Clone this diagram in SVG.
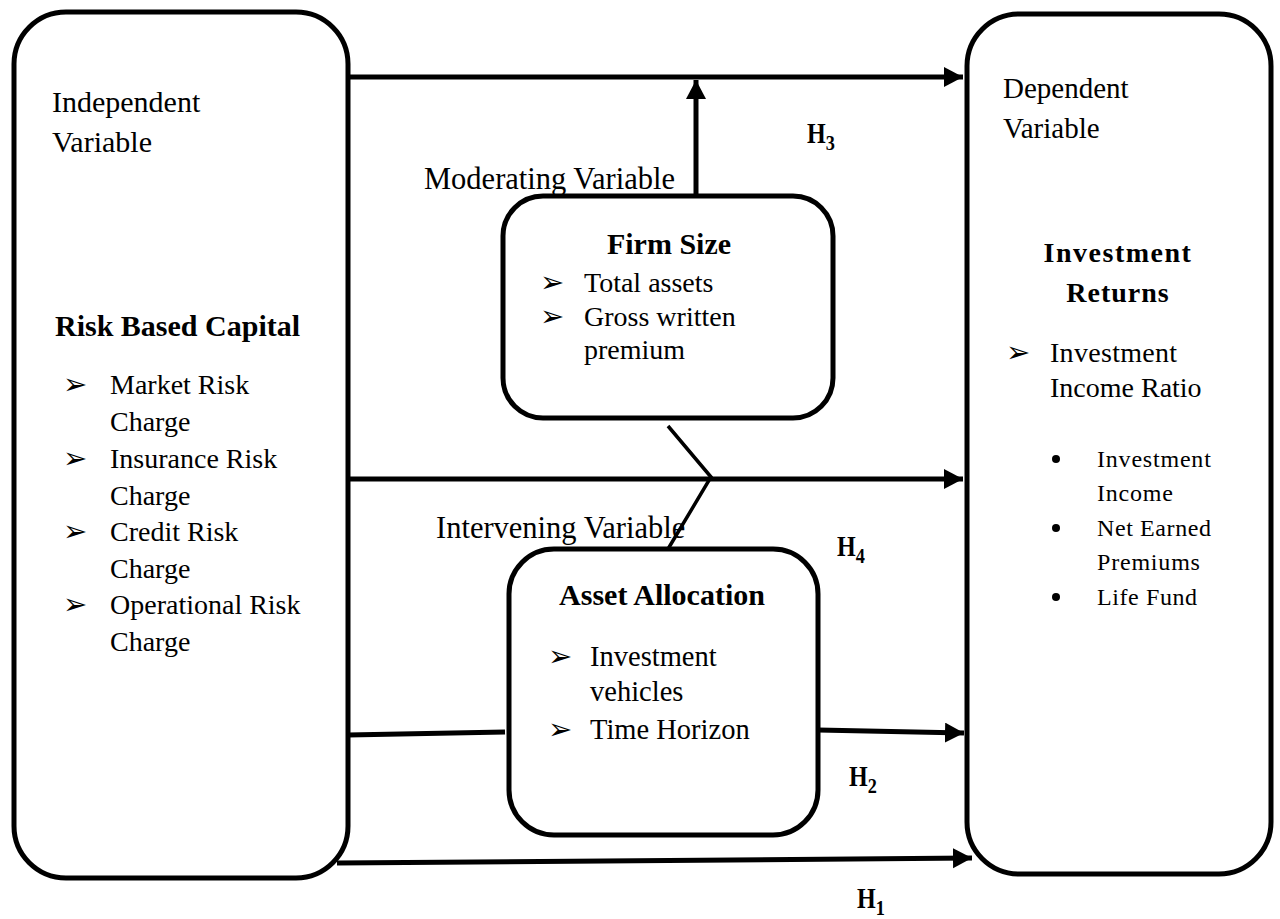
<svg xmlns="http://www.w3.org/2000/svg" width="1280" height="919" viewBox="0 0 1280 919">
<style>
.box{fill:#fff;stroke:#000;stroke-width:5}
.t{font-family:"Liberation Serif","Times New Roman",serif;fill:#000}
.b{font-weight:bold}
.ln{stroke:#000;stroke-width:5;fill:none}
.thin{stroke:#000;stroke-width:3.5;fill:none}
.ar{font-family:"DejaVu Sans",sans-serif;font-size:29px;fill:#000}
.dot{fill:#000}
.h{font-family:"Liberation Serif","Times New Roman",serif;font-weight:bold;font-size:29px;fill:#000}
</style>
<defs>
<marker id="ah" markerUnits="userSpaceOnUse" markerWidth="21" markerHeight="22" refX="19" refY="10" orient="auto">
<path d="M0,0 L19,10 L0,20 z" fill="#000"/>
</marker>
</defs>

<g id="independent">
<rect class="box" x="14" y="12" width="334" height="866" rx="52"/>
<text class="t" font-size="30" x="52" y="112">Independent</text>
<text class="t" font-size="30" x="52" y="152">Variable</text>
<text class="t b" font-size="30" x="55" y="336">Risk Based Capital</text>
<text class="ar" x="63" y="394">➢</text>
<text class="t" font-size="28" x="110" y="394">Market Risk</text>
<text class="t" font-size="28" x="110" y="431">Charge</text>
<text class="ar" x="63" y="468">➢</text>
<text class="t" font-size="28" x="110" y="468">Insurance Risk</text>
<text class="t" font-size="28" x="110" y="505">Charge</text>
<text class="ar" x="63" y="541">➢</text>
<text class="t" font-size="28" x="110" y="541">Credit Risk</text>
<text class="t" font-size="28" x="110" y="578">Charge</text>
<text class="ar" x="63" y="614">➢</text>
<text class="t" font-size="28" x="110" y="614">Operational Risk</text>
<text class="t" font-size="28" x="110" y="651">Charge</text>
</g>

<g id="dependent">
<rect class="box" x="967" y="14" width="304" height="860" rx="52"/>
<text class="t" font-size="29" x="1003" y="98">Dependent</text>
<text class="t" font-size="29" x="1003" y="138">Variable</text>
<text class="t b" font-size="28" x="1118" y="262" text-anchor="middle" letter-spacing="1.5">Investment</text>
<text class="t b" font-size="28" x="1118" y="302" text-anchor="middle" letter-spacing="1">Returns</text>
<text class="ar" x="1006" y="362">➢</text>
<text class="t" font-size="28" x="1050" y="362" letter-spacing="0.3">Investment</text>
<text class="t" font-size="28" x="1050" y="397">Income Ratio</text>
<circle class="dot" cx="1056" cy="459" r="4"/>
<text class="t" font-size="24" x="1097" y="467" letter-spacing="0.8">Investment</text>
<text class="t" font-size="24" x="1097" y="501" letter-spacing="0.8">Income</text>
<circle class="dot" cx="1056" cy="528" r="4"/>
<text class="t" font-size="24" x="1097" y="536" letter-spacing="0.6">Net Earned</text>
<text class="t" font-size="24" x="1097" y="570" letter-spacing="0.8">Premiums</text>
<circle class="dot" cx="1056" cy="597" r="4"/>
<text class="t" font-size="24" x="1097" y="605" letter-spacing="0.6">Life Fund</text>
</g>

<g id="connectors">
<line class="ln" x1="348" y1="77" x2="963" y2="77" marker-end="url(#ah)"/>
<line class="ln" x1="696" y1="196" x2="696" y2="80" marker-end="url(#ah)"/>
<line class="ln" x1="348" y1="479" x2="963" y2="479" marker-end="url(#ah)"/>
<polyline class="thin" points="668,426 711,477 668,549"/>
<line class="ln" x1="348" y1="735" x2="505" y2="732"/>
<line class="ln" x1="818" y1="730" x2="964" y2="733" marker-end="url(#ah)"/>
<line class="ln" x1="337" y1="863" x2="972" y2="858" marker-end="url(#ah)"/>
</g>

<g id="labels">
<text class="t" font-size="30.5" x="424" y="189">Moderating Variable</text>
<text class="t" font-size="30.5" x="436" y="538">Intervening Variable</text>
<text class="h" transform="translate(807,143) scale(0.83,1)">H<tspan font-size="22" dy="7">3</tspan></text>
<text class="h" transform="translate(837,556) scale(0.83,1)">H<tspan font-size="22" dy="7">4</tspan></text>
<text class="h" transform="translate(849,786) scale(0.83,1)">H<tspan font-size="22" dy="7">2</tspan></text>
<text class="h" transform="translate(857,908) scale(0.83,1)">H<tspan font-size="22" dy="7">1</tspan></text>
</g>

<g id="firm-size">
<rect class="box" x="503" y="196" width="330" height="222" rx="40"/>
<text class="t b" font-size="30" x="669" y="254" text-anchor="middle">Firm Size</text>
<text class="ar" x="540" y="292">➢</text>
<text class="t" font-size="28" x="584" y="292">Total assets</text>
<text class="ar" x="540" y="326">➢</text>
<text class="t" font-size="28" x="584" y="326">Gross written</text>
<text class="t" font-size="28" x="584" y="359">premium</text>
</g>

<g id="asset-allocation">
<rect class="box" x="509" y="549" width="309" height="286" rx="45"/>
<text class="t b" font-size="30" x="662" y="605" text-anchor="middle">Asset Allocation</text>
<text class="ar" x="548" y="666">➢</text>
<text class="t" font-size="28.5" x="590" y="666">Investment</text>
<text class="t" font-size="28.5" x="590" y="701">vehicles</text>
<text class="ar" x="548" y="739">➢</text>
<text class="t" font-size="28.5" x="590" y="739">Time Horizon</text>
</g>
</svg>
